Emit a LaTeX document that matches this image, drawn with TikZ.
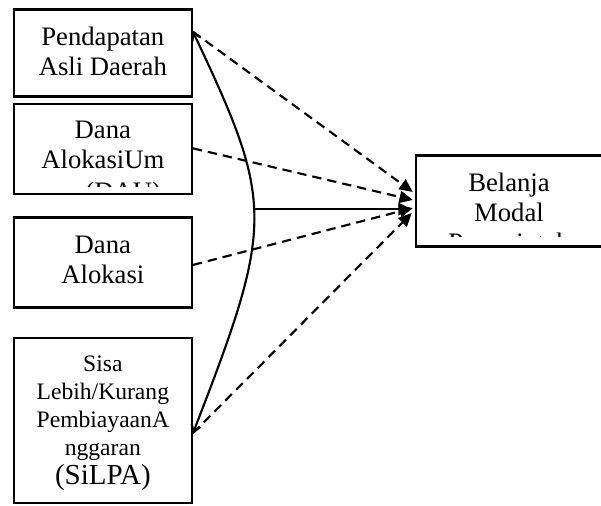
\documentclass[tikz,border=0pt]{standalone}
\usepackage{fontspec}
\setmainfont{Liberation Serif}
\usetikzlibrary{arrows.meta}
\begin{document}
\begin{tikzpicture}[x=0.75pt,y=-0.75pt,
  boxstyle/.style={draw, line width=1.8pt, inner sep=0pt, rectangle},
  txt/.style={inner sep=0pt, anchor=base, font=\fontsize{20}{22.5}\selectfont},
  smalltxt/.style={inner sep=0pt, anchor=base, font=\fontsize{17.7}{21}\selectfont},
  dsh/.style={line width=1.6pt, dash pattern=on 7pt off 4.5pt, -{Triangle[length=10pt,width=9pt]}},
  solidarrow/.style={line width=1.8pt, -{Triangle[length=10pt,width=9pt]}},
  corr/.style={line width=1.6pt, {Straight Barb[length=5pt,width=7pt]}-{Straight Barb[length=5pt,width=7pt]}}]
\useasboundingbox (0,0) rectangle (601,506);

% boxes
\node[boxstyle, minimum width=133.3pt, minimum height=65.5pt] (b1) at (102.85,53) {};
\node[boxstyle, minimum width=133.3pt, minimum height=67.5pt] (b2) at (102.85,149) {};
\node[boxstyle, minimum width=133.3pt, minimum height=67.5pt] (b3) at (102.85,262.7) {};
\node[boxstyle, minimum width=133.3pt, minimum height=123.75pt] (b4) at (102.85,420.5) {};
\node[boxstyle, minimum width=141pt, minimum height=68.25pt] (br) at (510,201.2) {};

% texts
\node[txt] (t1) at (102.85,45.7) {\begin{tabular}[t]{@{}c@{}}Pendapatan\\Asli Daerah\end{tabular}};
\begin{scope}
  \clip (b2.north west) rectangle ([yshift=6.4pt]b2.south east);
  \node[txt] (t2) at (102.85,138.3) {\begin{tabular}[t]{@{}c@{}}Dana\\AlokasiUm\\[2pt]um (DAU)\end{tabular}};
\end{scope}
\node[txt] (t3) at (102.85,253.3) {\begin{tabular}[t]{@{}c@{}}Dana\\Alokasi\end{tabular}};
\node[smalltxt] (t4) at (102.85,371.7) {\begin{tabular}[t]{@{}c@{}}Sisa\\Lebih/Kurang\\PembiayaanA\\nggaran\\{\fontsize{21.75}{24}\selectfont (SiLPA)}\end{tabular}};
\begin{scope}
  \clip (br.north west) rectangle ([yshift=8.2pt]br.south east);
  \node[txt] (tr) at (509,191.7) {\begin{tabular}[t]{@{}c@{}}Belanja\\Modal\\Pemerintah\end{tabular}};
\end{scope}

% correlation curve
\draw[corr] ([yshift=16pt]b1.east) .. controls (274.5,204) and (274.5,223) .. ([yshift=-9.6pt]b4.east)
  coordinate[pos=0.471] (apex);

% arrows into right box
\coordinate (hend) at ([xshift=-2.25pt]br.west);
\draw[solidarrow] (apex) -- (apex -| hend);
\draw[dsh] ([yshift=16pt]b1.east) -- ([xshift=-1.5pt,yshift=6.9pt]br.west);
\draw[dsh] ([yshift=0.5pt]b2.east) -- ([xshift=-1.5pt,yshift=0.9pt]br.west);
\draw[dsh] ([yshift=-1.7pt]b3.east) -- ([xshift=-1.5pt,yshift=-5.1pt]br.west);
\draw[dsh] ([yshift=-9.6pt]b4.east) -- ([xshift=-2.25pt,yshift=-8.85pt]br.west);
\end{tikzpicture}
\end{document}
